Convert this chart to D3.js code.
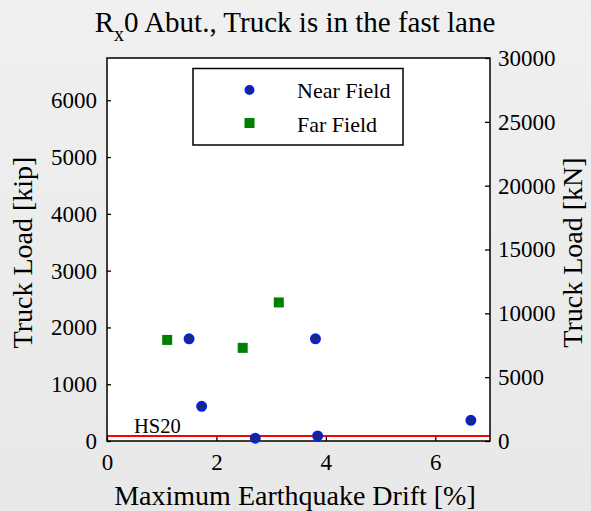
<!DOCTYPE html>
<html>
<head>
<meta charset="utf-8">
<script src="https://cdn.jsdelivr.net/npm/d3@7"></script>
<style>
  html, body { margin: 0; padding: 0; }
  body { width: 591px; height: 511px; overflow: hidden; }
</style>
</head>
<body>
<svg id="chart" width="591" height="511"></svg>
<script>
// Near field records: drift [%], truck load [kip]
const nearDrift = [1.50, 1.73, 2.71, 3.81, 3.85, 6.65];
const nearLoad = [1800, 610, 50, 1800, 90, 365];

// Far field records
const farDrift = [1.10, 2.48, 3.14];
const farLoad = [1780, 1640, 2440];

const xTicks = [0, 2, 4, 6];
const kipTicks = [0, 1000, 2000, 3000, 4000, 5000, 6000];
const kNTicks = [0, 5000, 10000, 15000, 20000, 25000, 30000];
const hs20 = 90; // kip
const KN_PER_KIP = 4.4482;

const FONT = '"Liberation Serif"';

const svg = d3.select('#chart');

// Figure background (slight gradient like the original export)
const defs = svg.append('defs');
const grad = defs.append('linearGradient')
    .attr('id', 'bg').attr('x1', 0).attr('y1', 0).attr('x2', 0).attr('y2', 1);
grad.append('stop').attr('offset', '0%').attr('stop-color', '#f0f0f0');
grad.append('stop').attr('offset', '100%').attr('stop-color', '#e8e8e8');
svg.append('rect').attr('width', 591).attr('height', 511).attr('fill', 'url(#bg)');

const pLeft = 107, pRight = 490, pTop = 58, pBottom = 441;

const x = d3.scaleLinear().domain([0, 7]).range([pLeft, pRight]);
const yKip = d3.scaleLinear().domain([0, 30000 / KN_PER_KIP]).range([pBottom, pTop]);
const yKN = d3.scaleLinear().domain([0, 30000]).range([pBottom, pTop]);

// Plot area
svg.append('rect')
    .attr('x', pLeft).attr('y', pTop)
    .attr('width', pRight - pLeft).attr('height', pBottom - pTop)
    .attr('fill', '#fff');

// HS20 reference line
svg.append('line')
    .attr('x1', pLeft).attr('x2', pRight)
    .attr('y1', yKip(hs20)).attr('y2', yKip(hs20))
    .attr('stroke', '#ff0000').attr('stroke-width', 2);

svg.append('text')
    .attr('x', 134).attr('y', yKip(hs20) - 3)
    .style('font-family', FONT).style('font-size', '20.5px')
    .text('HS20');

// Axes (ticks pointing inward)
const fmt = d3.format('d');
const axisStyle = g => {
    g.select('.domain').remove();
    g.selectAll('.tick line').attr('stroke', '#000').attr('stroke-width', 1.3);
    g.selectAll('.tick text')
        .style('font-family', FONT)
        .style('font-size', '23px').attr('fill', '#000');
};

svg.append('g')
    .attr('transform', `translate(0,${pBottom})`)
    .call(d3.axisBottom(x).tickValues(xTicks).tickFormat(fmt).tickSizeInner(-4).tickPadding(13))
    .call(axisStyle);

svg.append('g')
    .attr('transform', `translate(${pLeft},0)`)
    .call(d3.axisLeft(yKip).tickValues(kipTicks).tickFormat(fmt).tickSizeInner(-4).tickPadding(10))
    .call(axisStyle);

svg.append('g')
    .attr('transform', `translate(${pRight},0)`)
    .call(d3.axisRight(yKN).tickValues(kNTicks).tickFormat(fmt).tickSizeInner(-5).tickPadding(8))
    .call(axisStyle);

// Box around plot
svg.append('rect')
    .attr('x', pLeft).attr('y', pTop)
    .attr('width', pRight - pLeft).attr('height', pBottom - pTop)
    .attr('fill', 'none').attr('stroke', '#000').attr('stroke-width', 1.5);

// Markers
svg.selectAll('.far')
    .data(farDrift.map((d, i) => [d, farLoad[i]]))
    .enter()
    .append('rect')
    .attr('class', 'far')
    .attr('x', d => x(d[0]) - 5)
    .attr('y', d => yKip(d[1]) - 5)
    .attr('width', 10).attr('height', 10)
    .attr('fill', '#008000');

svg.selectAll('.near')
    .data(nearDrift.map((d, i) => [d, nearLoad[i]]))
    .enter()
    .append('circle')
    .attr('class', 'near')
    .attr('cx', d => x(d[0]))
    .attr('cy', d => yKip(d[1]))
    .attr('r', 4.5)
    .attr('fill', '#1a2a78')
    .attr('stroke', '#0a1eea')
    .attr('stroke-width', 2);

// Legend
const legend = svg.append('g');
legend.append('rect')
    .attr('x', 193).attr('y', 68.5)
    .attr('width', 210).attr('height', 76.5)
    .attr('fill', '#fff').attr('stroke', '#000').attr('stroke-width', 1.5);
legend.append('circle')
    .attr('cx', 249.5).attr('cy', 90).attr('r', 4)
    .attr('fill', '#1a2a78').attr('stroke', '#0a1eea').attr('stroke-width', 2);
legend.append('rect')
    .attr('x', 244.5).attr('y', 118).attr('width', 10).attr('height', 10)
    .attr('fill', '#008000');
legend.append('text').attr('x', 297).attr('y', 98)
    .style('font-family', FONT).style('font-size', '22px').text('Near Field');
legend.append('text').attr('x', 297).attr('y', 132)
    .style('font-family', FONT).style('font-size', '22px').text('Far Field');

// Title with subscript
const title = svg.append('text')
    .attr('x', 295).attr('y', 32)
    .attr('text-anchor', 'middle')
    .style('font-family', FONT).style('font-size', '29px');
title.append('tspan').text('R');
title.append('tspan').attr('dy', 9).style('font-size', '20px').text('x');
title.append('tspan').attr('dy', -9).text('0 Abut., Truck is in the fast lane');

// Axis labels
svg.append('text')
    .attr('x', 295).attr('y', 505)
    .attr('text-anchor', 'middle')
    .style('font-family', FONT).style('font-size', '28px')
    .text('Maximum Earthquake Drift [%]');

svg.append('text')
    .attr('transform', `translate(32,${(pTop + pBottom) / 2 + 3}) rotate(-90)`)
    .attr('text-anchor', 'middle')
    .style('font-family', FONT).style('font-size', '28px')
    .text('Truck Load [kip]');

svg.append('text')
    .attr('transform', `translate(582,${(pTop + pBottom) / 2 + 3}) rotate(-90)`)
    .attr('text-anchor', 'middle')
    .style('font-family', FONT).style('font-size', '28px')
    .text('Truck Load [kN]');
</script>
</body>
</html>
